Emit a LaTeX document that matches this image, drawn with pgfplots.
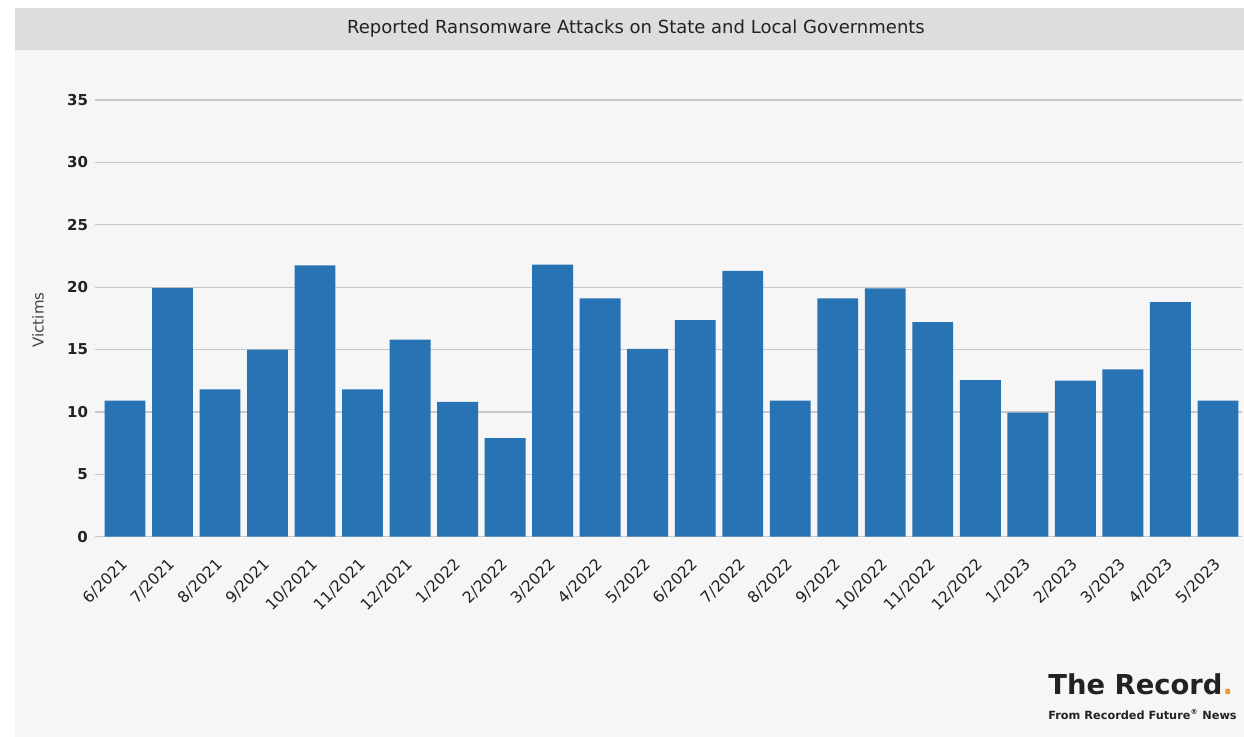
\documentclass[border=0pt]{standalone}
\usepackage{fontspec}
\setmainfont{DejaVu Sans}
\usepackage{pgfplots}
\usepackage{pgfplotstable}
\pgfplotsset{compat=1.18}
\definecolor{barblue}{RGB}{40,115,180}
\definecolor{panel}{RGB}{246,246,246}
\definecolor{band}{RGB}{221,221,221}
\definecolor{gridgray}{RGB}{200,200,200}
\definecolor{txt}{RGB}{34,34,34}
\definecolor{dot}{RGB}{242,153,51}

% monthly victims, 6/2021 .. 5/2023
\pgfplotstableread{
idx victims
0  10.9
1  19.95
2  11.8
3  15.0
4  21.75
5  11.8
6  15.8
7  10.8
8  7.9
9  21.8
10 19.1
11 15.05
12 17.35
13 21.3
14 10.9
15 19.1
16 19.9
17 17.2
18 12.55
19 9.95
20 12.5
21 13.4
22 18.8
23 10.9
}\attacks

\begin{document}
\begin{tikzpicture}[x=0.5pt,y=0.5pt]
\useasboundingbox (0,0) rectangle (1244,737);
\fill[white] (0,0) rectangle (1244,737);
\fill[panel] (15,0) rectangle (1244,729);
\fill[band] (15,687) rectangle (1244,729);
\node[font=\fontsize{9}{11}\selectfont, text=txt] at (636,708)
  {Reported Ransomware Attacks on State and Local Governments};
\node[rotate=90, font=\fontsize{7.5}{9}\selectfont, text=txt!85] at (38,417) {Victims};

\begin{axis}[
  at={(47.5pt,100.15pt)}, anchor=south west,
  scale only axis, width=573.35pt, height=218.35pt,
  xmin=-0.63, xmax=23.5, ymin=0, ymax=35,
  ytick={0,5,...,35},
  xtick={0,...,23},
  xticklabels={6/2021,7/2021,8/2021,9/2021,10/2021,11/2021,12/2021,1/2022,2/2022,3/2022,4/2022,5/2022,6/2022,7/2022,8/2022,9/2022,10/2022,11/2022,12/2022,1/2023,2/2023,3/2023,4/2023,5/2023},
  axis line style={draw=none},
  major tick length=0pt,
  ymajorgrids, grid style={gridgray, line width=0.6pt},
  /pgf/number format/assume math mode=true,
  yticklabel style={font=\fontsize{7.5}{9}\selectfont\bfseries, text=txt},
  xticklabel style={font=\fontsize{7.8}{9}\selectfont, text=txt, rotate=45, anchor=north east, xshift=-5.5pt, yshift=-2.2pt},
]
\addplot[ybar, bar width=0.86, fill=barblue, draw=none] table[x=idx, y=victims] {\attacks};
\end{axis}

\node[anchor=base west, font=\fontsize{13.7}{15}\selectfont\bfseries, text=txt, inner sep=0pt] at (1048,42)
  {The Record\textcolor{dot}{.}};
\node[anchor=base west, font=\fontsize{5.65}{7}\selectfont\bfseries, text=txt, inner sep=0pt] at (1048,17)
  {From Recorded Future\textsuperscript{\fontsize{3.5}{4}\selectfont ®} News};
\end{tikzpicture}
\end{document}
